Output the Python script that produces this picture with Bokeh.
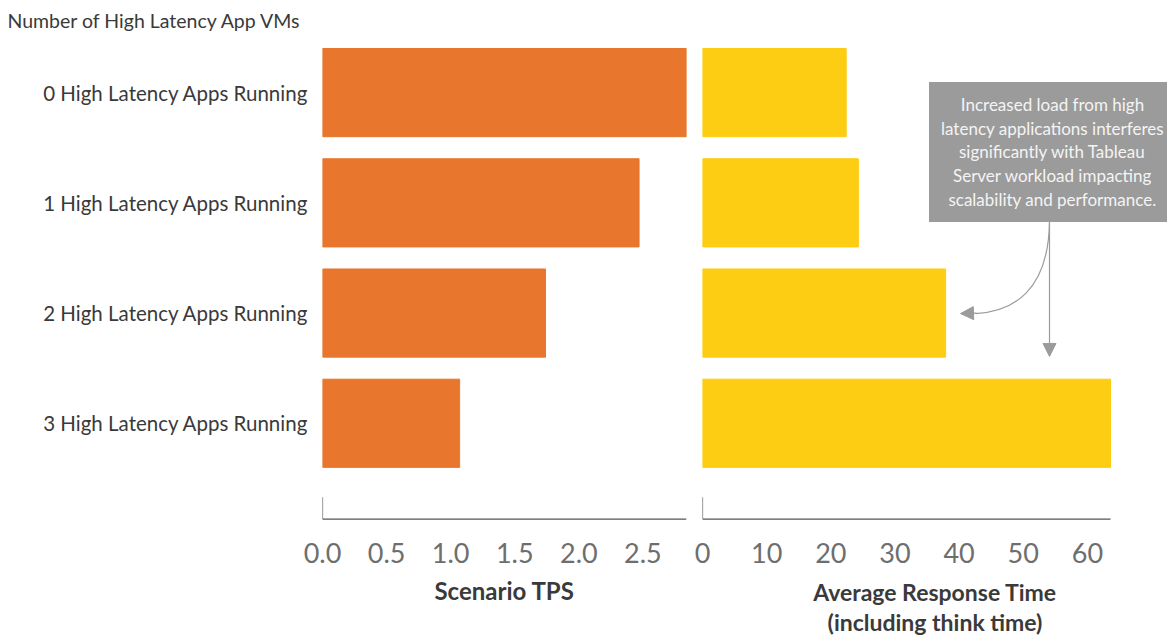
from bokeh.plotting import figure
from bokeh.layouts import row
from bokeh.models import Range1d, FixedTicker, NumeralTickFormatter, Label, Arrow, NormalHead
from bokeh.embed import file_html
from bokeh.resources import INLINE

# ---- data ----
categories = ["0 High Latency Apps Running", "1 High Latency Apps Running",
              "2 High Latency Apps Running", "3 High Latency Apps Running"]
tps = [2.84, 2.47, 1.74, 1.07]
response_time = [22.4, 24.3, 37.9, 63.6]
tps_ticks = [0.0, 0.5, 1.0, 1.5, 2.0, 2.5]
rt_ticks = [0, 10, 20, 30, 40, 50, 60]
row_title = "Number of High Latency App VMs"
tps_title = "Scenario TPS"
rt_title = "Average Response Time\n(including think time)"
note = ("Increased load from high\nlatency applications interferes\n"
        "significantly with Tableau\nServer workload impacting\nscalability and performance.")

ORANGE = "#E8762C"
YELLOW = "#FDCD13"
FONT = "Lato"
TEXT = "#3a3a3a"
AXIS = "#555555"
GREY = "#9b9b9b"

pos = list(range(len(categories)))
BASE = len(categories) - 1 + 0.87          # baseline position below last bar
y_range = Range1d(start=BASE + 0.012, end=-0.5)

H = 640
common = dict(height=H, y_range=y_range, output_backend="svg", toolbar_location=None,
              min_border_top=37, min_border_bottom=120)

p1 = figure(width=694, x_range=Range1d(0, max(tps)), min_border_left=322,
            min_border_right=8, title=row_title, **common)
p1.hbar(y=pos, left=0, right=tps, height=0.8, color=ORANGE)

# right panel: frame extends to page edge so the note box fits; axis end = max value
RIGHT_FRAME_PX = 465
RIGHT_AXIS_PX = 408
p2 = figure(width=473, x_range=Range1d(0, max(response_time) * RIGHT_FRAME_PX / RIGHT_AXIS_PX),
            min_border_left=8, min_border_right=0, y_axis_location=None, **common)
p2.hbar(y=pos, left=0, right=response_time, height=0.8, color=YELLOW)

for p, vals, ticks, lab, lab_size, lab_standoff in (
        (p1, tps, tps_ticks, tps_title, "24px", 10),
        (p2, response_time, rt_ticks, rt_title, "23px", 12)):
    p.outline_line_color = None
    p.grid.visible = False
    ax = p.xaxis[0]
    ax.ticker = FixedTicker(ticks=ticks)
    ax.major_tick_line_color = None
    ax.minor_tick_line_color = None
    ax.major_tick_out = 0
    ax.major_tick_in = 0
    ax.axis_line_color = None
    ax.major_label_text_font = FONT
    ax.major_label_text_font_size = "27px"
    ax.major_label_text_color = "#6e6e6e"
    ax.major_label_standoff = 22
    ax.axis_label = lab
    ax.axis_label_text_font = FONT
    ax.axis_label_text_font_size = lab_size
    ax.axis_label_text_font_style = "bold"
    ax.axis_label_text_color = TEXT
    ax.axis_label_text_line_height = 1.1
    ax.axis_label_standoff = lab_standoff
    # axis baseline spanning 0..max value, plus small stub at zero
    p.segment(x0=[0], x1=[max(vals)], y0=[BASE], y1=[BASE], line_color=AXIS, line_width=1.3)
    p.segment(x0=[0], x1=[0], y0=[BASE], y1=[BASE - 0.2], line_color=AXIS, line_width=1.2)

p1.xaxis[0].formatter = NumeralTickFormatter(format="0.0")

ya = p1.yaxis[0]
ya.ticker = FixedTicker(ticks=pos)
ya.major_label_overrides = {i: c for i, c in enumerate(categories)}
ya.axis_line_color = None
ya.major_tick_line_color = None
ya.minor_tick_line_color = None
ya.major_tick_out = 0
ya.major_label_standoff = 14
ya.major_label_text_font = FONT
ya.major_label_text_font_size = "20.5px"
ya.major_label_text_color = TEXT

p1.title.text_font = FONT
p1.title.text_font_size = "19.5px"
p1.title.text_font_style = "normal"
p1.title.text_color = TEXT
p1.title.align = "left"
p1.title.offset = -315
p1.title.standoff = 11

# ---- annotation (positions in the right panel's data space) ----
px_per_unit = RIGHT_AXIS_PX / max(response_time)
def dx(px):
    return (px - 702) / px_per_unit
def dy(py):
    return (py - 92.5) / 110.5

p2.add_layout(Label(x=dx(1052), y=dy(152), text=note, text_align="center",
                    text_baseline="middle", text_font=FONT, text_font_size="17px",
                    text_color="#f4f4f4", text_line_height=1.13,
                    background_fill_color=GREY, padding=12))
p2.bezier(x0=[dx(1049)], y0=[dy(222)], x1=[dx(975)], y1=[dy(314)],
          cx0=[dx(1048)], cy0=[dy(292)], cx1=[dx(1012)], cy1=[dy(312)],
          line_color=GREY, line_width=1.2)
p2.add_layout(Arrow(x_start=dx(976), y_start=dy(313.5), x_end=dx(960), y_end=dy(314),
                    line_color=GREY, line_width=1.2,
                    end=NormalHead(size=13, fill_color=GREY, line_color=GREY)))
p2.add_layout(Arrow(x_start=dx(1049), y_start=dy(222), x_end=dx(1049), y_end=dy(357),
                    line_color=GREY, line_width=1.2,
                    end=NormalHead(size=13, fill_color=GREY, line_color=GREY)))

layout = row(p1, p2)
open("out.html", "w").write(file_html(layout, INLINE))
